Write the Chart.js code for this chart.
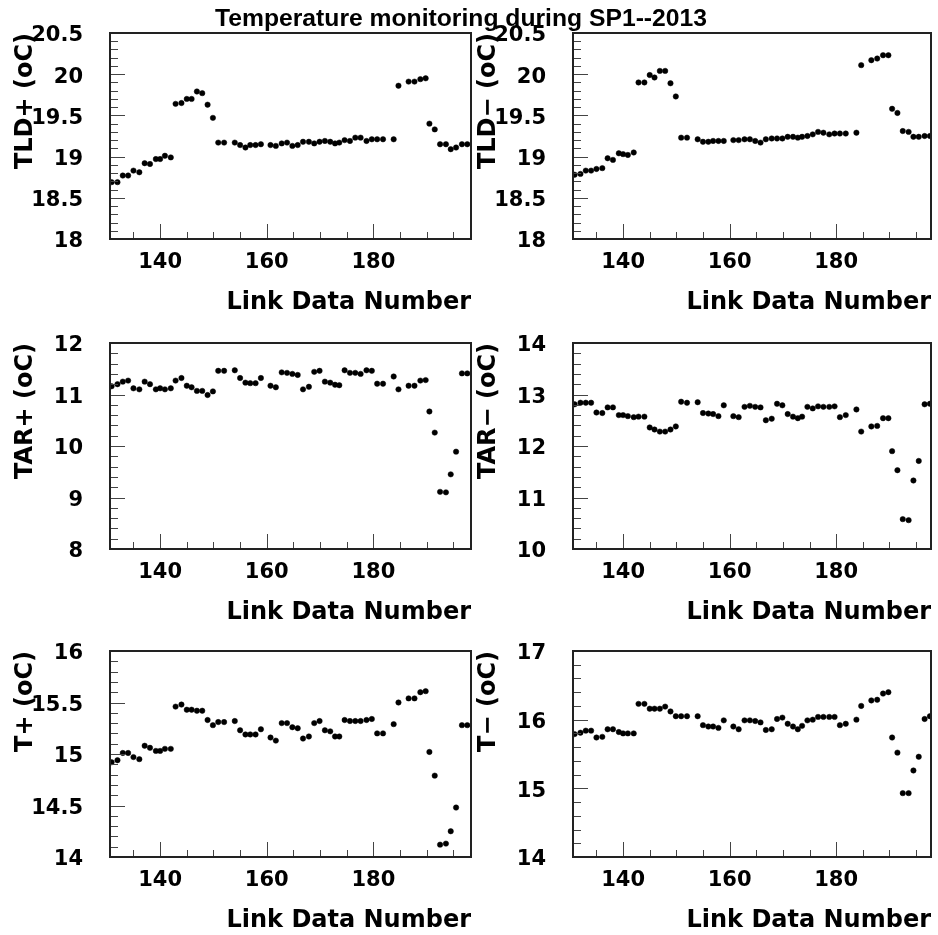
<!DOCTYPE html>
<html>
<head>
<meta charset="utf-8">
<script src="https://cdn.jsdelivr.net/npm/chart.js@4.4.1/dist/chart.umd.min.js"></script>
<style>
  html, body { margin:0; padding:0; background:#fff; }
  body { width:938px; height:935px; position:relative; overflow:hidden; }
  canvas { position:absolute; }
  #title { position:absolute; left:215px; top:6px; font-family:"Liberation Sans", Arial, sans-serif; font-weight:bold; font-size:24.7px; line-height:1; white-space:nowrap; color:#000; z-index:5; }
</style>
</head>
<body>
<div id="title">Temperature monitoring during SP1--2013</div>
<canvas id="c1" width="479" height="317" style="left:0px;top:0px"></canvas>
<canvas id="c2" width="475" height="317" style="left:463px;top:0px"></canvas>
<canvas id="c3" width="479" height="317" style="left:0px;top:310px"></canvas>
<canvas id="c4" width="475" height="317" style="left:463px;top:310px"></canvas>
<canvas id="c5" width="479" height="317" style="left:0px;top:618px"></canvas>
<canvas id="c6" width="475" height="317" style="left:463px;top:618px"></canvas>
<script>
// ---------------- data ----------------
const linkNumbers = [
  130.9,132.0,133.0,134.0,135.0,136.1,137.1,138.1,139.2,140.0,140.9,142.0,142.9,144.0,145.0,145.9,146.9,147.9,148.9,149.9,150.9,152.0,
  154.0,155.0,156.0,156.9,157.9,158.9,
  160.7,161.7,162.8,163.8,164.8,165.8,166.8,167.9,168.9,169.9,170.9,171.9,172.8,173.6,174.6,175.6,176.6,177.6,178.7,179.7,180.7,181.8,
  183.8,184.7,186.6,187.7,188.8,189.8,190.5,191.5,192.5,193.6,194.5,195.5,196.6,197.6
];
const tldPlus = [
  18.69,18.69,18.77,18.77,18.83,18.81,18.92,18.91,18.97,18.97,19.01,18.99,19.64,19.65,19.70,19.70,19.79,19.77,19.63,19.47,19.17,19.17,
  19.17,19.14,19.11,19.14,19.14,19.15,
  19.14,19.13,19.16,19.17,19.13,19.14,19.18,19.18,19.16,19.18,19.19,19.18,19.16,19.17,19.20,19.19,19.23,19.23,19.19,19.21,19.21,19.21,
  19.21,19.86,19.91,19.91,19.94,19.95,19.40,19.33,19.15,19.15,19.09,19.11,19.15,19.15
];
const tldMinus = [
  18.78,18.79,18.83,18.83,18.85,18.86,18.98,18.96,19.04,19.03,19.02,19.05,19.90,19.90,19.99,19.96,20.04,20.04,19.89,19.73,19.23,19.23,
  19.21,19.18,19.18,19.19,19.19,19.19,
  19.20,19.20,19.21,19.21,19.19,19.17,19.21,19.22,19.22,19.22,19.24,19.24,19.23,19.24,19.25,19.27,19.30,19.29,19.27,19.28,19.28,19.28,
  19.29,20.11,20.17,20.19,20.23,20.23,19.58,19.53,19.31,19.30,19.24,19.24,19.25,19.25
];
const tarPlus = [
  11.16,11.20,11.25,11.27,11.12,11.10,11.25,11.20,11.10,11.12,11.10,11.12,11.27,11.32,11.17,11.14,11.07,11.07,10.99,11.06,11.46,11.46,
  11.47,11.32,11.23,11.22,11.22,11.32,
  11.17,11.14,11.43,11.42,11.40,11.38,11.10,11.15,11.44,11.46,11.25,11.23,11.19,11.18,11.47,11.42,11.42,11.40,11.47,11.46,11.21,11.21,
  11.35,11.10,11.17,11.17,11.27,11.28,10.67,10.26,9.11,9.10,9.45,9.89,11.41,11.41
];
const tarMinus = [
  12.81,12.84,12.84,12.84,12.65,12.64,12.75,12.75,12.60,12.60,12.58,12.56,12.57,12.57,12.36,12.32,12.28,12.28,12.32,12.38,12.86,12.84,
  12.85,12.64,12.63,12.62,12.58,12.79,
  12.58,12.56,12.76,12.78,12.76,12.75,12.50,12.53,12.82,12.79,12.62,12.57,12.54,12.57,12.76,12.73,12.77,12.76,12.76,12.77,12.56,12.60,
  12.71,12.28,12.38,12.39,12.54,12.54,11.90,11.53,10.58,10.56,11.33,11.71,12.81,12.82
];
const tPlus = [
  14.92,14.94,15.01,15.01,14.97,14.95,15.08,15.06,15.03,15.03,15.05,15.05,15.46,15.48,15.43,15.43,15.42,15.42,15.33,15.28,15.31,15.31,
  15.32,15.23,15.19,15.19,15.19,15.24,
  15.16,15.13,15.30,15.30,15.26,15.25,15.15,15.17,15.30,15.32,15.23,15.22,15.17,15.17,15.33,15.32,15.32,15.32,15.33,15.34,15.20,15.20,
  15.29,15.50,15.54,15.54,15.60,15.61,15.02,14.79,14.12,14.13,14.25,14.48,15.28,15.28
];
const tMinus = [
  15.79,15.81,15.84,15.84,15.74,15.75,15.86,15.86,15.82,15.80,15.80,15.80,16.23,16.23,16.16,16.16,16.16,16.19,16.12,16.05,16.05,16.05,
  16.05,15.92,15.90,15.90,15.88,15.99,
  15.90,15.86,15.99,15.99,15.98,15.96,15.85,15.86,16.01,16.03,15.94,15.90,15.86,15.91,15.99,16.00,16.04,16.04,16.04,16.04,15.92,15.94,
  16.00,16.20,16.28,16.29,16.38,16.40,15.74,15.52,14.93,14.93,15.26,15.46,16.01,16.05
];

const xTickLabels = [140, 160, 180];
const xMinorTicks = [135,145,150,155,165,170,175,185,190,195];
const yTicksTLD = [18, 18.5, 19, 19.5, 20, 20.5];
const yTicksTARp = [8, 9, 10, 11, 12];
const yTicksTARm = [10, 11, 12, 13, 14];
const yTicksTp = [14, 14.5, 15, 15.5, 16];
const yTicksTm = [14, 15, 16, 17];

const xTitle = 'Link Data Number';

// ---------------- drawing ----------------
const tickFont = { family: 'DejaVu Sans', weight: 'bold', size: 21 };
const titleFont = { family: 'DejaVu Sans', weight: 'bold', size: 24 };

function minorValues(major, step) {
  const out = [];
  const lo = major[0], hi = major[major.length - 1];
  const n = Math.round((hi - lo) / step);
  for (let i = 0; i <= n; i++) {
    const v = +(lo + i * step).toFixed(6);
    if (!major.some(m => Math.abs(m - v) < 1e-6)) out.push(v);
  }
  return out;
}

const framePlugin = {
  id: 'rootFrame',
  afterDraw(chart, args, opts) {
    const { ctx, chartArea: a, scales } = chart;
    ctx.save();
    ctx.strokeStyle = '#444';
    ctx.lineWidth = 1;
    ctx.beginPath();
    const ys = scales.y, xs = scales.x;
    opts.yMajor.forEach(v => { const p = Math.round(ys.getPixelForValue(v)) + 0.5; ctx.moveTo(a.left, p); ctx.lineTo(a.left + 15, p); });
    opts.yMinor.forEach(v => { const p = Math.round(ys.getPixelForValue(v)) + 0.5; ctx.moveTo(a.left, p); ctx.lineTo(a.left + 8, p); });
    xTickLabels.forEach(v => { const p = Math.round(xs.getPixelForValue(v)) + 0.5; ctx.moveTo(p, a.bottom); ctx.lineTo(p, a.bottom - 15); });
    xMinorTicks.forEach(v => { const p = Math.round(xs.getPixelForValue(v)) + 0.5; ctx.moveTo(p, a.bottom); ctx.lineTo(p, a.bottom - 7); });
    ctx.stroke();
    ctx.strokeStyle = '#222';
    ctx.lineWidth = 2;
    ctx.strokeRect(a.left, a.top, a.right - a.left, a.bottom - a.top);
    ctx.restore();
  }
};

function makePanel(id, ys, yTitle, yTicks, yMinorStep, xMax, padRight) {
  new Chart(document.getElementById(id), {
    type: 'scatter',
    data: {
      datasets: [{
        data: linkNumbers.map((x, i) => ({ x: x, y: ys[i] })),
        pointRadius: 2.7,
        pointBackgroundColor: '#000',
        pointBorderColor: '#000',
        pointBorderWidth: 0.5,
        showLine: false
      }]
    },
    options: {
      responsive: false,
      animation: false,
      devicePixelRatio: 1,
      layout: { padding: { top: 33, right: padRight, left: 0, bottom: 0 } },
      plugins: {
        legend: { display: false },
        tooltip: { enabled: false },
        rootFrame: { yMajor: yTicks, yMinor: minorValues(yTicks, yMinorStep) }
      },
      scales: {
        x: {
          type: 'linear', min: 130.6, max: xMax,
          afterBuildTicks: s => { s.ticks = xTickLabels.map(v => ({ value: v })); },
          afterFit: s => { s.height = 78; },
          grid: { display: false, drawTicks: false },
          border: { display: false },
          ticks: { font: tickFont, color: '#000', padding: 11, maxRotation: 0, autoSkip: false, callback: v => String(v) },
          title: { display: true, text: xTitle, align: 'end', font: titleFont, color: '#000', padding: { top: 0, bottom: 0 } }
        },
        y: {
          type: 'linear', min: yTicks[0], max: yTicks[yTicks.length - 1],
          afterBuildTicks: s => { s.ticks = yTicks.map(v => ({ value: v })); },
          afterFit: s => { s.width = 110; s.paddingTop = 0; s.paddingBottom = 0; },
          grid: { display: false, drawTicks: false },
          border: { display: false },
          ticks: { font: tickFont, color: '#000', padding: 27, labelOffset: 3, autoSkip: false, callback: v => String(v) },
          title: { display: true, text: yTitle, align: 'end', font: titleFont, color: '#000', padding: { top: 11, bottom: 0 } }
        }
      }
    },
    plugins: [framePlugin]
  });
}

makePanel('c1', tldPlus, 'TLD+ (oC)', yTicksTLD, 0.1, 198.3, 8);
makePanel('c2', tldMinus, 'TLD\u2212 (oC)', yTicksTLD, 0.1, 197.8, 7);
makePanel('c3', tarPlus, 'TAR+ (oC)', yTicksTARp, 0.2, 198.3, 8);
makePanel('c4', tarMinus, 'TAR\u2212 (oC)', yTicksTARm, 0.2, 197.8, 7);
makePanel('c5', tPlus, 'T+ (oC)', yTicksTp, 0.1, 198.3, 8);
makePanel('c6', tMinus, 'T\u2212 (oC)', yTicksTm, 0.2, 197.8, 7);
</script>
</body>
</html>
